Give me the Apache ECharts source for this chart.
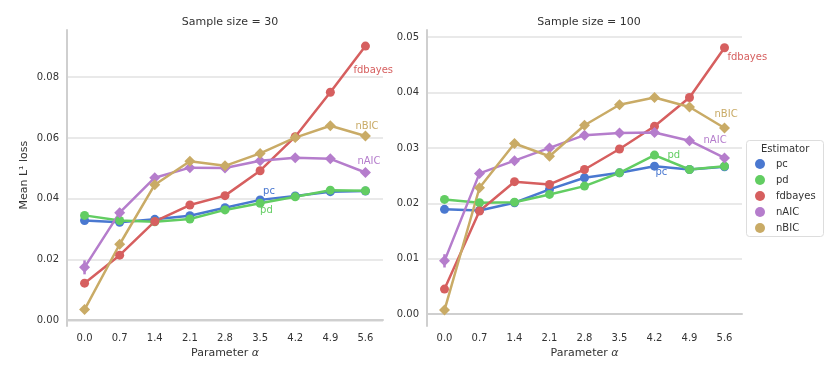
<!DOCTYPE html>
<html>
<head>
<meta charset="utf-8">
<script src="https://cdn.jsdelivr.net/npm/echarts@6/dist/echarts.min.js"></script>
<style>
  html,body{margin:0;padding:0;background:#fff;}
  #main{width:830px;height:376px;}
</style>
</head>
<body>
<div id="main"></div>
<script>
// x categories (parameter alpha)
const alphaLabels = ['0.0','0.7','1.4','2.1','2.8','3.5','4.2','4.9','5.6'];
const estimators = ['pc','pd','fdbayes','nAIC','nBIC'];
const colors = {pc:'#4a78d0', pd:'#62cd62', fdbayes:'#d65f5f', nAIC:'#b57dcc', nBIC:'#c9ab66'};

// sample size = 30
const pc30      = [0.0328,0.0322,0.0332,0.0344,0.0370,0.0396,0.0409,0.0423,0.0425];
const pd30      = [0.0345,0.0328,0.0324,0.0333,0.0363,0.0385,0.0406,0.0428,0.0426];
const fdbayes30 = [0.0122,0.0214,0.0325,0.0379,0.0410,0.0492,0.0604,0.0750,0.0902];
const nAIC30    = [0.0174,0.0354,0.0469,0.0502,0.0501,0.0525,0.0535,0.0531,0.0486];
const nBIC30    = [0.0035,0.0250,0.0446,0.0523,0.0508,0.0549,0.0601,0.0640,0.0606];
// error half widths (only the visible ones)
const nAICerr30 = [0.0023,0.0013,0.0008,0.0005,0.0004,0.0004,0.0004,0.0004,0.0006];
const nBICerr30 = [0.0004,0.0006,0.0009,0.0006,0.0005,0.0005,0.0005,0.0006,0.0006];

// sample size = 100
const pc100      = [0.0189,0.0187,0.0201,0.0225,0.0246,0.0255,0.0267,0.0261,0.0266];
const pd100      = [0.0207,0.0201,0.0202,0.0216,0.0231,0.0255,0.0287,0.0261,0.0267];
const fdbayes100 = [0.0045,0.0186,0.0239,0.0234,0.0261,0.0298,0.0339,0.0391,0.0481];
const nAIC100    = [0.0096,0.0254,0.0277,0.0300,0.0323,0.0327,0.0328,0.0313,0.0282];
const nBIC100    = [0.0007,0.0228,0.0308,0.0285,0.0341,0.0378,0.0391,0.0374,0.0336];
const nAICerr100 = [0.0012,0.0005,0.0006,0.0004,0.0004,0.0003,0.0003,0.0003,0.0004];
const nBICerr100 = [0.0002,0.0004,0.0006,0.0005,0.0004,0.0004,0.0004,0.0004,0.0004];

const txt = '#333';
const font = 'DejaVu Sans';

// end-of-line labels: [point index, dx, dy]
const labels30 = {fdbayes:[8,-12,24], nBIC:[8,-10,-10], nAIC:[8,-8,-11], pc:[5,3,-8], pd:[5,0,7]};
const labels100 = {fdbayes:[8,3,10], nBIC:[8,-10,-14], nAIC:[8,-21,-17], pd:[6,13,0], pc:[6,1,6]};

function lineSeries(name, data, gi, lab){
  let sym = (name==='nAIC' || name==='nBIC') ? 'diamond' : 'circle';
  let d = data.map((v,i)=>{
    if(lab && lab[0]===i){
      return {value:v, label:{show:true, formatter:name, position:'inside', align:'left',
        verticalAlign:'middle', offset:[lab[1],lab[2]], color:colors[name], fontSize:10, fontFamily:font}};
    }
    return v;
  });
  return {
    name:name, type:'line', xAxisIndex:gi, yAxisIndex:gi, data:d,
    symbol:sym, symbolSize: sym==='diamond' ? 11 : 9,
    itemStyle:{color:colors[name]}, lineStyle:{color:colors[name], width:2.5},
    emphasis:{disabled:true}, animation:false
  };
}

function errSeries(name, vals, errs, gi){
  return {
    type:'custom', xAxisIndex:gi, yAxisIndex:gi, silent:true, animation:false,
    data: vals.map((v,i)=>[i, v-errs[i], v+errs[i]]),
    renderItem:function(params, api){
      let a = api.coord([api.value(0), api.value(1)]);
      let b = api.coord([api.value(0), api.value(2)]);
      return {type:'line', shape:{x1:a[0],y1:a[1],x2:b[0],y2:b[1]},
        style:{stroke:colors[name], lineWidth:2.5}};
    }
  };
}

// data grids (0,1): axis lines + x labels; tick grids (2,3): y labels + split lines from 0
function xAxisCfg(gi, visible){
  if(!visible){
    return {type:'category', gridIndex:gi, data:alphaLabels, show:false};
  }
  return {
    type:'category', gridIndex:gi, data:alphaLabels, boundaryGap:true,
    axisLine:{lineStyle:{color:'#cfcfcf', width:2}}, axisTick:{show:false},
    axisLabel:{color:txt, fontSize:10, fontFamily:font, margin:7},
    name:'Parameter {i|α}', nameLocation:'middle', nameGap:21,
    nameTextStyle:{color:txt, fontSize:11, fontFamily:font,
      rich:{i:{fontStyle:'italic', fontSize:11, fontFamily:font, color:txt}}}
  };
}

function yDataAxis(gi, min, max){
  return {
    type:'value', gridIndex:gi, min:min, max:max,
    axisLine:{show:true, lineStyle:{color:'#cfcfcf', width:2}}, axisTick:{show:false},
    axisLabel:{show:false}, splitLine:{show:false}
  };
}

function yTickAxis(gi, max, step, withName){
  let cfg = {
    type:'value', gridIndex:gi, min:0, max:max, interval:step,
    axisLine:{show:false}, axisTick:{show:false},
    axisLabel:{color:txt, fontSize:10, fontFamily:font, margin:8, showMaxLabel:false,
      formatter:v=>v.toFixed(2)},
    splitLine:{lineStyle:{color:'#e2e2e2', width:1.5}, showMaxLine:false}
  };
  if(withName){
    cfg.name = 'Mean L¹ loss';
    cfg.nameLocation = 'middle';
    cfg.nameGap = 37;
    cfg.nameTextStyle = {color:txt, fontSize:11, fontFamily:font};
  }
  return cfg;
}

let series = [];
[[pc30,pd30,fdbayes30,nAIC30,nBIC30,labels30],[pc100,pd100,fdbayes100,nAIC100,nBIC100,labels100]].forEach((set,gi)=>{
  estimators.forEach((name,k)=>{
    series.push(lineSeries(name, set[k], gi, set[5][name]));
  });
});
series.push(errSeries('nAIC', nAIC30, nAICerr30, 0));
series.push(errSeries('nBIC', nBIC30, nBICerr30, 0));
series.push(errSeries('nAIC', nAIC100, nAICerr100, 1));
series.push(errSeries('nBIC', nBIC100, nBICerr100, 1));

let option = {
  backgroundColor:'#fff',
  animation:false,
  title:[
    {text:'Sample size = 30', left:225, top:12, textAlign:'center',
      textStyle:{color:txt, fontSize:11, fontWeight:'normal', fontFamily:font}},
    {text:'Sample size = 100', left:584, top:12, textAlign:'center',
      textStyle:{color:txt, fontSize:11, fontWeight:'normal', fontFamily:font}}
  ],
  grid:[
    {left:67, top:30, width:316, height:296},
    {left:427, top:30, width:315, height:296},
    {left:67, top:30, width:316, height:290.3},
    {left:427, top:30, width:315, height:284}
  ],
  xAxis:[xAxisCfg(0,true), xAxisCfg(1,true), xAxisCfg(2,false), xAxisCfg(3,false)],
  yAxis:[
    yDataAxis(0,-0.0019,0.0955),
    yDataAxis(1,-0.00217,0.0513),
    yTickAxis(2,0.0955,0.02,true),
    yTickAxis(3,0.0513,0.01,false)
  ],
  legend:{
    data:estimators, orient:'vertical', left:750, top:154, icon:'circle',
    itemWidth:22, itemHeight:10, itemGap:6,
    textStyle:{color:txt, fontSize:10, fontFamily:font}
  },
  graphic:[
    {type:'rect', left:746, top:140, z:-1, shape:{width:77, height:96, r:3},
      style:{fill:'#fff', stroke:'#dddddd', lineWidth:1}},
    {type:'text', left:761, top:144, style:{text:'Estimator', fill:txt, fontSize:10, fontFamily:font}}
  ],
  series:series
};

let myChart = echarts.init(document.getElementById('main'));
myChart.setOption(option);
</script>
</body>
</html>
